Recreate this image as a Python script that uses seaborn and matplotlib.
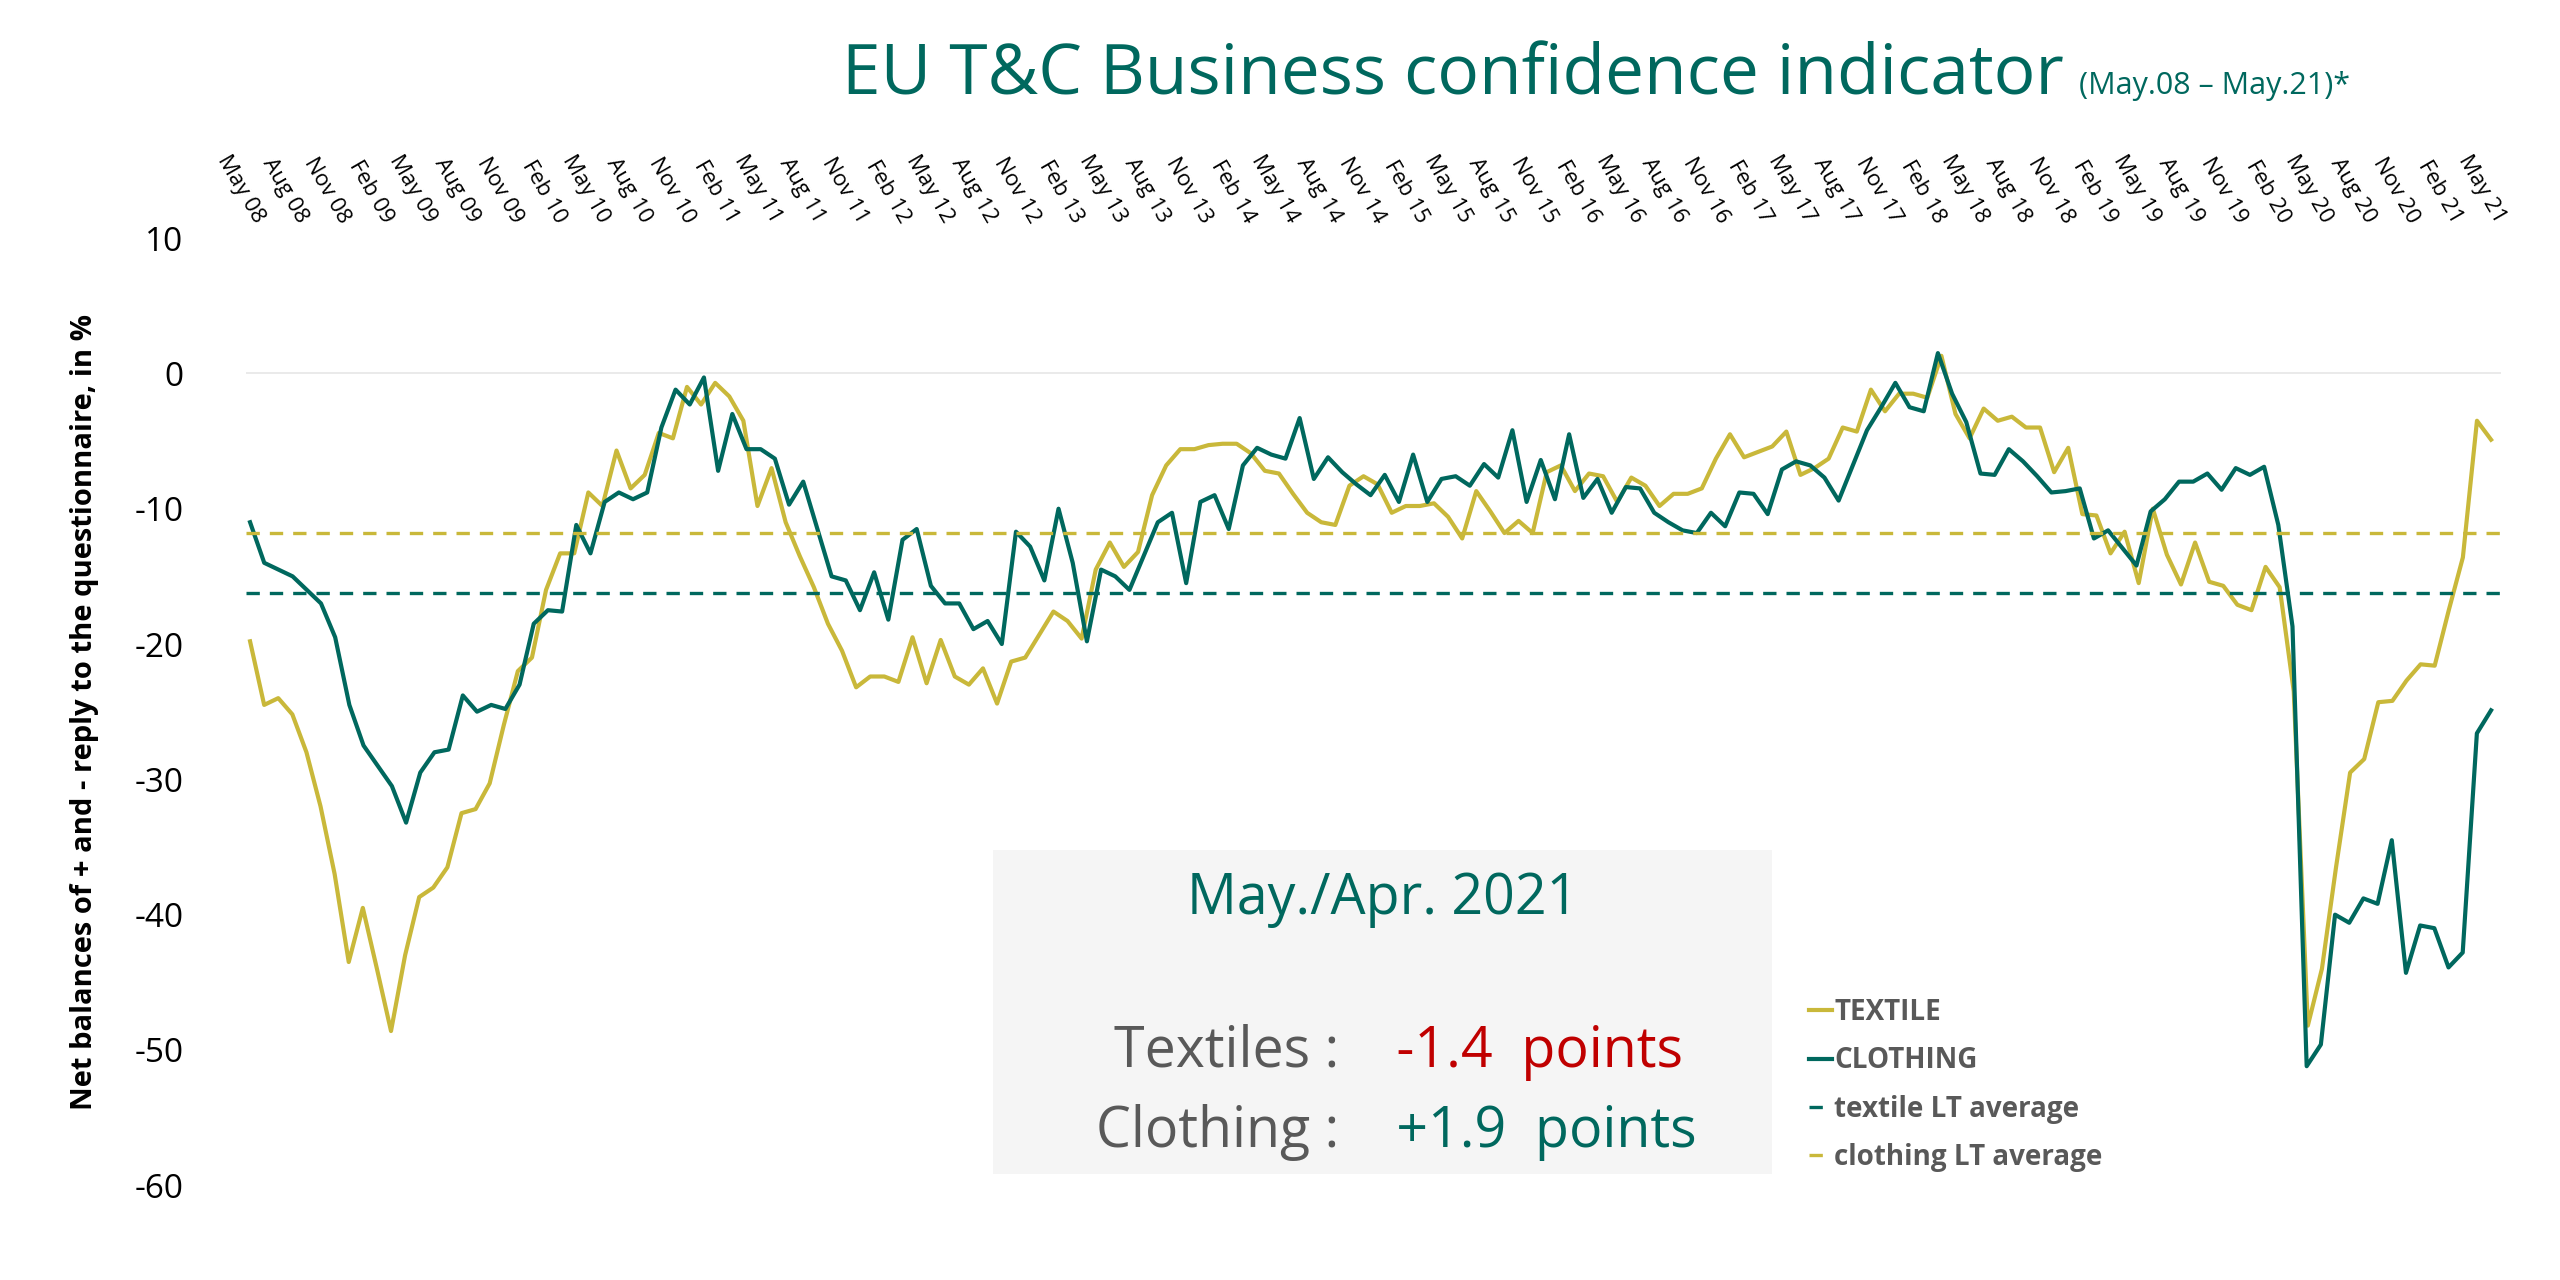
import numpy as np
import pandas as pd
import matplotlib
matplotlib.use("Agg")
import matplotlib.pyplot as plt
import seaborn as sns
from matplotlib.patches import Rectangle

plt.rcParams["font.family"] = "Open Sans"
plt.rcParams["axes.unicode_minus"] = False

clothing = [-11, -14, -14.5, -15, -16, -17, -19.5, -24.5, -27.5, -29, -30.5, -33.2, -29.5, -28, -27.8, -23.8, -25, -24.5, -24.8, -23, -18.5, -17.5, -17.6, -11.2, -13.3, -9.5, -8.8, -9.3, -8.8, -4, -1.2, -2.3, -0.3, -7.2, -3, -5.6, -5.6, -6.3, -9.7, -8, -11.5, -15, -15.3, -17.5, -14.7, -18.2, -12.3, -11.5, -15.7, -17, -17, -18.9, -18.3, -20, -11.7, -12.8, -15.3, -10, -14, -19.8, -14.5, -15, -16, -13.5, -11, -10.3, -15.5, -9.5, -9, -11.5, -6.8, -5.5, -6, -6.3, -3.3, -7.8, -6.2, -7.3, -8.2, -9, -7.5, -9.5, -6, -9.5, -7.8, -7.6, -8.3, -6.7, -7.7, -4.2, -9.5, -6.4, -9.3, -4.5, -9.2, -7.8, -10.3, -8.4, -8.5, -10.3, -11, -11.6, -11.8, -10.3, -11.3, -8.8, -8.9, -10.4, -7.1, -6.5, -6.8, -7.7, -9.4, -6.8, -4.2, -2.5, -0.7, -2.5, -2.8, 1.5, -1.5, -3.6, -7.4, -7.5, -5.6, -6.5, -7.6, -8.8, -8.7, -8.5, -12.2, -11.6, -12.9, -14.2, -10.2, -9.3, -8, -8, -7.4, -8.6, -7, -7.5, -6.9, -11.2, -18.7, -51.2, -49.6, -40, -40.6, -38.8, -39.2, -34.5, -44.3, -40.8, -41, -43.9, -42.8, -26.6, -24.9]
textile = [-19.8, -24.5, -24, -25.2, -28, -32, -37, -43.5, -39.5, -44, -48.6, -43, -38.7, -38, -36.5, -32.5, -32.2, -30.3, -26, -22, -21, -16, -13.3, -13.3, -8.8, -9.8, -5.7, -8.5, -7.5, -4.4, -4.8, -1, -2.3, -0.7, -1.7, -3.5, -9.8, -7, -11, -13.5, -15.8, -18.5, -20.5, -23.2, -22.4, -22.4, -22.8, -19.5, -22.9, -19.7, -22.4, -23, -21.8, -24.4, -21.3, -21, -19.3, -17.6, -18.3, -19.6, -14.5, -12.5, -14.3, -13.2, -9, -6.8, -5.6, -5.6, -5.3, -5.2, -5.2, -5.9, -7.2, -7.4, -8.9, -10.3, -11, -11.2, -8.3, -7.6, -8.2, -10.3, -9.8, -9.8, -9.6, -10.6, -12.2, -8.7, -10.2, -11.8, -10.9, -11.8, -7.3, -6.8, -8.7, -7.4, -7.6, -9.5, -7.7, -8.3, -9.8, -8.9, -8.9, -8.5, -6.3, -4.5, -6.2, -5.8, -5.4, -4.3, -7.5, -7, -6.3, -4, -4.3, -1.2, -2.8, -1.5, -1.5, -1.8, 1.3, -3, -4.8, -2.6, -3.5, -3.2, -4, -4, -7.3, -5.5, -10.4, -10.5, -13.3, -11.7, -15.5, -10, -13.4, -15.6, -12.5, -15.4, -15.7, -17.1, -17.5, -14.3, -15.8, -23.5, -48.2, -44, -36.5, -29.5, -28.5, -24.3, -24.2, -22.7, -21.5, -21.6, -17.5, -13.6, -3.5, -4.9]
textile_lt_avg = -16.2
clothing_lt_avg = -11.8
months = ["May", "Aug", "Nov", "Feb"]
tick_labels = []
m_i, yr = 0, 8
for k in range(53):
    tick_labels.append(f"{months[m_i]} {yr:02d}")
    m_i = (m_i + 1) % 4
    if m_i == 3:
        yr += 1

N_MONTHS = 157
YEL = "#C9B83A"
TEAL = "#00685E"

fig = plt.figure(figsize=(25.6, 12.8), dpi=100)
fig.patches.append(Rectangle((0.388, 0.083), 0.304, 0.253, transform=fig.transFigure,
                             facecolor="#F5F5F5", edgecolor="none", zorder=0))
ax = fig.add_axes([0.096, 0.074, 0.881, 0.740])
ax.set_facecolor("none")

dfc = pd.DataFrame({"x": np.linspace(0, N_MONTHS - 1, len(clothing)), "y": clothing})
dft = pd.DataFrame({"x": np.linspace(0, N_MONTHS - 1, len(textile)), "y": textile})
sns.lineplot(data=dft, x="x", y="y", color=YEL, lw=3.0, ax=ax, label="TEXTILE")
sns.lineplot(data=dfc, x="x", y="y", color=TEAL, lw=3.0, ax=ax, label="CLOTHING")
ax.axhline(textile_lt_avg, color=TEAL, ls=(0, (4, 3)), lw=2.4, label="textile LT average")
ax.axhline(clothing_lt_avg, color=YEL, ls=(0, (4, 3)), lw=2.4, label="clothing LT average")
ax.axhline(0, color="#E6E6E6", lw=1.2, zorder=0)

ax.set_xlim(-0.3, N_MONTHS - 0.3)
ax.set_ylim(-60, 10)
ax.set_yticks(range(-60, 11, 10))
ax.tick_params(axis="y", labelsize=24, length=0, pad=45)
ax.xaxis.tick_top()
ax.set_xticks(range(0, N_MONTHS, 3))
ax.set_xticklabels(tick_labels, rotation=-60, ha="right", va="bottom", rotation_mode="anchor", fontsize=16)
ax.tick_params(axis="x", length=0, pad=8)
for s in ax.spines.values():
    s.set_visible(False)
ax.set_xlabel("")
ax.set_ylabel("Net balances of + and - reply to the questionnaire, in %", fontsize=21, fontweight="bold", labelpad=25)

leg = ax.legend(loc="upper left", bbox_to_anchor=(0.697, 0.24), bbox_transform=fig.transFigure,
                frameon=False, handlelength=0.8, handletextpad=0.1, labelspacing=0.7,
                prop={"family": "Open Sans", "size": 20, "weight": "bold"})
for t in leg.get_texts():
    t.set_color("#595959")

fig.text(0.540, 0.297, "May./Apr. 2021", fontsize=40, color=TEAL, ha="center", va="center")
fig.text(0.540, 0.178, "Textiles :   ", fontsize=40, color="#595959", ha="right", va="center")
fig.text(0.540, 0.178, " -1.4  points", fontsize=40, color="#C00000", ha="left", va="center")
fig.text(0.540, 0.115, "Clothing :   ", fontsize=40, color="#595959", ha="right", va="center")
fig.text(0.540, 0.115, " +1.9  points", fontsize=40, color=TEAL, ha="left", va="center")

fig.text(0.806, 0.940, "EU T&C Business confidence indicator", fontsize=50, color=TEAL, ha="right", va="center")
fig.text(0.812, 0.933, "(May.08 – May.21)*", fontsize=22, color=TEAL, ha="left", va="center")

fig.savefig("out.png", dpi=100)
